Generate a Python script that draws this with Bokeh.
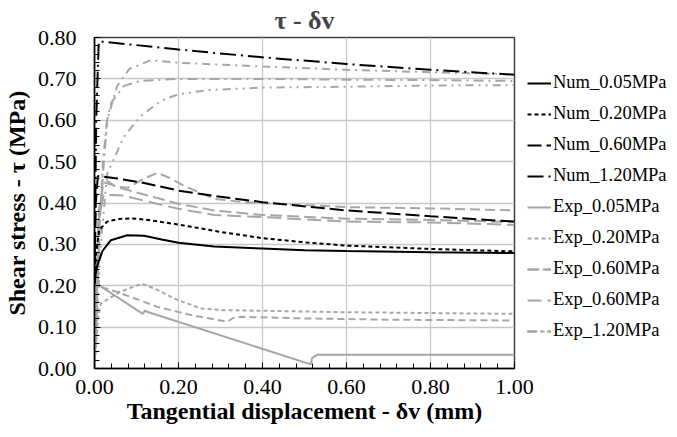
from bokeh.plotting import figure
from bokeh.models import Legend, LegendItem, SingleIntervalTicker, NumeralTickFormatter, Range1d
from bokeh.embed import file_html
from bokeh.resources import INLINE

# ---------------- data ----------------
# Numerical curves
num_005_x = [0.0, 0.003, 0.007, 0.019, 0.039, 0.078, 0.118, 0.16, 0.2, 0.285, 0.4, 0.5, 0.6, 0.8, 1.0]
num_005_y = [0.205, 0.23, 0.25, 0.284, 0.31, 0.322, 0.321, 0.312, 0.304, 0.295, 0.29, 0.286, 0.284, 0.281, 0.279]

num_020_x = [0.0, 0.003, 0.011, 0.03, 0.055, 0.086, 0.12, 0.16, 0.2, 0.3, 0.4, 0.5, 0.6, 0.8, 1.0]
num_020_y = [0.205, 0.27, 0.335, 0.355, 0.361, 0.363, 0.36, 0.354, 0.348, 0.33, 0.315, 0.305, 0.297, 0.289, 0.283]

num_060_x = [0.0, 0.003, 0.008, 0.05, 0.11, 0.2, 0.3, 0.4, 0.6, 0.8, 1.0]
num_060_y = [0.205, 0.40, 0.465, 0.46, 0.45, 0.43, 0.415, 0.402, 0.382, 0.368, 0.355]

num_120_x = [0.0, 0.004, 0.01, 0.02, 0.2, 0.4, 0.6, 0.8, 1.0]
num_120_y = [0.205, 0.60, 0.79, 0.79, 0.771, 0.752, 0.736, 0.722, 0.71]

# Experimental curves
exp_005_x = [0.0, 0.005, 0.115, 0.12, 0.125, 0.515, 0.518, 0.53, 1.0]
exp_005_y = [0.0, 0.205, 0.132, 0.14, 0.137, 0.01, 0.025, 0.033, 0.033]

exp_020a_x = [0.0, 0.008, 0.015, 0.06, 0.113, 0.15, 0.19, 0.253, 0.309, 0.43, 0.6, 0.8, 1.0]
exp_020a_y = [0.0, 0.12, 0.157, 0.185, 0.205, 0.19, 0.169, 0.145, 0.141, 0.139, 0.136, 0.134, 0.132]

exp_020b_x = [0.0, 0.005, 0.054, 0.15, 0.23, 0.316, 0.33, 0.348, 0.5, 0.7, 1.0]
exp_020b_y = [0.0, 0.20, 0.185, 0.149, 0.129, 0.113, 0.122, 0.125, 0.121, 0.118, 0.116]

exp_060a_x = [0.0, 0.01, 0.02, 0.05, 0.08, 0.12, 0.15, 0.18, 0.213, 0.285, 0.357, 0.6, 0.8, 1.0]
exp_060a_y = [0.0, 0.35, 0.46, 0.44, 0.437, 0.46, 0.473, 0.46, 0.442, 0.41, 0.402, 0.39, 0.387, 0.382]

exp_060b_x = [0.0, 0.01, 0.022, 0.07, 0.12, 0.2, 0.285, 0.4, 0.6, 0.8, 1.0]
exp_060b_y = [0.0, 0.38, 0.45, 0.434, 0.42, 0.398, 0.382, 0.371, 0.362, 0.359, 0.354]

exp_060c_x = [0.0, 0.01, 0.022, 0.07, 0.12, 0.2, 0.285, 0.4, 0.6, 0.8, 1.0]
exp_060c_y = [0.0, 0.36, 0.42, 0.418, 0.405, 0.386, 0.371, 0.366, 0.355, 0.353, 0.347]

exp_120a_x = [0.0, 0.01, 0.02, 0.03, 0.054, 0.083, 0.134, 0.2, 0.4, 0.6, 0.8, 1.0]
exp_120a_y = [0.0, 0.30, 0.50, 0.60, 0.683, 0.724, 0.745, 0.739, 0.73, 0.722, 0.716, 0.711]

exp_120b_x = [0.0, 0.015, 0.03, 0.04, 0.07, 0.11, 0.2, 0.4, 0.6, 0.8, 1.0]
exp_120b_y = [0.0, 0.40, 0.60, 0.643, 0.683, 0.695, 0.70, 0.70, 0.698, 0.697, 0.695]

exp_120c_x = [0.0, 0.015, 0.03, 0.07, 0.11, 0.158, 0.2, 0.27, 0.4, 0.6, 0.8, 1.0]
exp_120c_y = [0.0, 0.30, 0.47, 0.56, 0.61, 0.647, 0.663, 0.673, 0.679, 0.681, 0.684, 0.685]

legend_labels = ["Num_0.05MPa", "Num_0.20MPa", "Num_0.60MPa", "Num_1.20MPa",
                 "Exp_0.05MPa", "Exp_0.20MPa", "Exp_0.60MPa", "Exp_0.60MPa", "Exp_1.20MPa"]

x_range = (0.0, 1.0)
y_range = (0.0, 0.8)

# ---------------- figure ----------------
FONT = "Liberation Serif"
BLACK = "#000000"
GRAY = "#A6A6A6"

FL, FT, FW, FH = 92, 33, 420, 331

p = figure(frame_width=FW, frame_height=FH, output_backend="svg", toolbar_location=None,
           x_range=Range1d(*x_range), y_range=Range1d(*y_range),
           min_border_left=FL, min_border_top=FT,
           min_border_right=150, min_border_bottom=57)

p.title.text = "τ - δv"
p.title.text_font = FONT
p.title.text_font_size = "26px"
p.title.text_font_style = "bold"
p.title.align = "center"
p.title.standoff = 6

p.outline_line_color = "#404040"
p.outline_line_width = 1.5
p.background_fill_color = "white"
p.border_fill_color = "white"

p.xaxis.ticker = SingleIntervalTicker(interval=0.2, num_minor_ticks=5)
p.yaxis.ticker = SingleIntervalTicker(interval=0.1, num_minor_ticks=5)
p.xaxis.formatter = NumeralTickFormatter(format="0.00")
p.yaxis.formatter = NumeralTickFormatter(format="0.00")

for ax in (p.xaxis[0], p.yaxis[0]):
    ax.axis_line_color = BLACK
    ax.axis_line_width = 1.5
    ax.major_tick_in = 6
    ax.major_tick_out = 0
    ax.minor_tick_in = 5
    ax.minor_tick_out = 0
    ax.major_tick_line_color = BLACK
    ax.minor_tick_line_color = BLACK
    ax.major_tick_line_width = 1
    ax.minor_tick_line_width = 1
    ax.major_label_text_font = FONT
    ax.major_label_text_font_size = "22px"
    ax.major_label_text_color = BLACK
    ax.axis_label_text_font = FONT
    ax.axis_label_text_font_size = "24px"
    ax.axis_label_text_font_style = "bold"
    ax.axis_label_text_color = BLACK

p.xaxis.axis_label = "Tangential displacement - δv (mm)"
p.yaxis.axis_label = "Shear stress - τ (MPa)"
p.xaxis.major_label_standoff = 11
p.yaxis.major_label_standoff = 18
p.xaxis.axis_label_standoff = 1
p.yaxis.axis_label_standoff = 5

p.grid.grid_line_color = "#C8C8C8"
p.grid.grid_line_width = 1.3

LW = 2
# experimental (grey) first, numerical on top
r_e005 = p.line(exp_005_x, exp_005_y, line_color=GRAY, line_width=LW)
r_e020a = p.line(exp_020a_x, exp_020a_y, line_color=GRAY, line_width=LW, line_dash="4 3")
r_e020b = p.line(exp_020b_x, exp_020b_y, line_color=GRAY, line_width=LW, line_dash="7 4")
r_e060a = p.line(exp_060a_x, exp_060a_y, line_color=GRAY, line_width=LW, line_dash="10 5")
r_e060b = p.line(exp_060b_x, exp_060b_y, line_color=GRAY, line_width=LW, line_dash="12 5")
r_e060c = p.line(exp_060c_x, exp_060c_y, line_color=GRAY, line_width=LW, line_dash="14 6")
r_e120a = p.line(exp_120a_x, exp_120a_y, line_color=GRAY, line_width=LW, line_dash="8 5 2 5")
r_e120b = p.line(exp_120b_x, exp_120b_y, line_color=GRAY, line_width=LW, line_dash="10 5 2 5")
r_e120c = p.line(exp_120c_x, exp_120c_y, line_color=GRAY, line_width=LW, line_dash="8 5 2 5 2 5")

r_n005 = p.line(num_005_x, num_005_y, line_color=BLACK, line_width=LW)
r_n020 = p.line(num_020_x, num_020_y, line_color=BLACK, line_width=LW, line_dash="4 3")
r_n060 = p.line(num_060_x, num_060_y, line_color=BLACK, line_width=LW, line_dash="14 5")
r_n120 = p.line(num_120_x, num_120_y, line_color=BLACK, line_width=LW, line_dash="16 5 2 5")

groups = [[r_n005], [r_n020], [r_n060], [r_n120],
          [r_e005], [r_e020a], [r_e060a, r_e060b], [r_e060c], [r_e120a, r_e120b, r_e120c]]
items = [LegendItem(label=lab, renderers=g) for lab, g in zip(legend_labels, groups)]

n = len(items)
label_h, spacing = 20, 10
leg_h = n * label_h + (n - 1) * spacing
first_centre = 87                      # figure px of first entry centre
leg_top_off = first_centre - label_h // 2 - FT   # offset from frame top
legend = Legend(items=items, location=(13, FH - leg_top_off - leg_h),
                label_text_font=FONT, label_text_font_size="18.5px", label_text_color=BLACK,
                glyph_width=24, glyph_height=label_h, label_height=label_h, label_standoff=2,
                spacing=spacing, padding=0, margin=0,
                border_line_alpha=0, background_fill_alpha=0)
p.add_layout(legend, "right")

open("out.html", "w").write(file_html(p, INLINE))
